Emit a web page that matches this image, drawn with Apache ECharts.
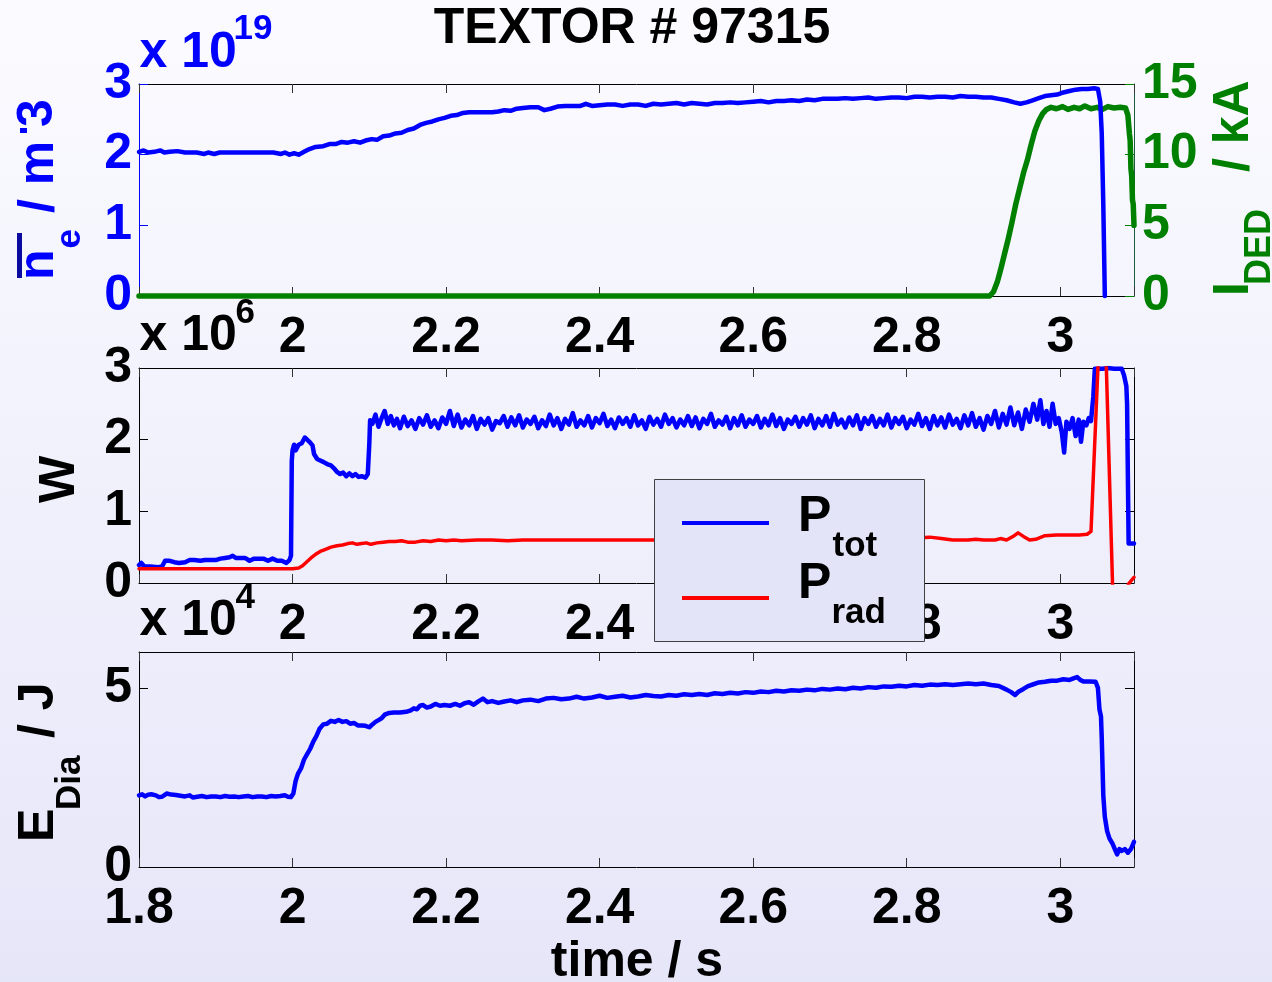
<!DOCTYPE html>
<html>
<head>
<meta charset="utf-8">
<script src="https://cdn.jsdelivr.net/npm/echarts@6/dist/echarts.min.js"></script>
<style>
html,body{margin:0;padding:0;width:1272px;height:982px;overflow:hidden;background:#EEEEFB;}
#chart{width:1272px;height:982px;}
</style>
</head>
<body>
<div id="chart"></div>
<script>
// ---------------- DATA (time in s) ----------------
// Panel 1: line-averaged density n_e (x 1e19 m^-3)
const neData = [[1.800,2.04],[1.806,2.06],[1.812,2.03],[1.820,2.04],[1.828,2.06],[1.833,2.03],[1.840,2.04],[1.850,2.05],[1.860,2.03],[1.875,2.03],[1.885,2.01],[1.890,2.03],[1.898,2.01],[1.905,2.03],[1.915,2.03],[1.930,2.03],[1.945,2.03],[1.960,2.03],[1.975,2.03],[1.985,2.01],[1.990,2.03],[1.996,2.0],[2.002,2.02],[2.008,2.0],[2.015,2.04],[2.022,2.08],[2.030,2.11],[2.040,2.12],[2.048,2.15],[2.056,2.15],[2.064,2.18],[2.072,2.17],[2.080,2.19],[2.088,2.17],[2.095,2.2],[2.103,2.22],[2.110,2.21],[2.118,2.26],[2.126,2.27],[2.134,2.3],[2.142,2.31],[2.150,2.35],[2.158,2.37],[2.166,2.42],[2.174,2.45],[2.182,2.47],[2.190,2.5],[2.198,2.52],[2.206,2.55],[2.214,2.56],[2.222,2.59],[2.230,2.6],[2.240,2.6],[2.250,2.6],[2.260,2.6],[2.268,2.61],[2.276,2.63],[2.284,2.62],[2.292,2.65],[2.300,2.66],[2.310,2.67],[2.320,2.67],[2.328,2.63],[2.336,2.65],[2.345,2.68],[2.355,2.69],[2.365,2.69],[2.375,2.69],[2.382,2.72],[2.390,2.69],[2.400,2.7],[2.410,2.71],[2.420,2.71],[2.430,2.69],[2.440,2.71],[2.450,2.71],[2.460,2.69],[2.470,2.72],[2.480,2.71],[2.490,2.72],[2.500,2.73],[2.510,2.71],[2.520,2.73],[2.530,2.72],[2.540,2.71],[2.550,2.73],[2.560,2.73],[2.570,2.74],[2.580,2.73],[2.590,2.74],[2.600,2.75],[2.610,2.76],[2.620,2.74],[2.630,2.76],[2.640,2.76],[2.650,2.77],[2.660,2.76],[2.670,2.78],[2.680,2.77],[2.690,2.79],[2.700,2.79],[2.710,2.79],[2.720,2.8],[2.730,2.79],[2.740,2.8],[2.750,2.81],[2.760,2.79],[2.770,2.8],[2.780,2.81],[2.790,2.81],[2.800,2.8],[2.810,2.82],[2.820,2.82],[2.830,2.81],[2.840,2.82],[2.850,2.82],[2.860,2.81],[2.870,2.83],[2.880,2.82],[2.890,2.82],[2.900,2.81],[2.910,2.81],[2.920,2.79],[2.930,2.77],[2.940,2.74],[2.948,2.72],[2.956,2.74],[2.964,2.77],[2.972,2.8],[2.980,2.83],[2.988,2.84],[2.996,2.85],[3.004,2.88],[3.012,2.9],[3.020,2.92],[3.028,2.93],[3.036,2.93],[3.044,2.94],[3.049,2.93],[3.052,2.75],[3.054,2.3],[3.056,1.3],[3.058,0.0]];
// Panel 1: DED coil current (kA)
const idedData = [[1.800,0],[2.200,0],[2.600,0],[2.908,0],[2.913,0.3],[2.918,1.0],[2.922,1.8],[2.927,2.9],[2.932,4.0],[2.937,5.2],[2.942,6.5],[2.947,7.6],[2.952,8.7],[2.957,9.6],[2.962,10.7],[2.967,11.7],[2.972,12.4],[2.977,12.9],[2.982,13.2],[2.988,13.35],[2.995,13.25],[3.003,13.4],[3.010,13.2],[3.018,13.35],[3.025,13.25],[3.032,13.45],[3.040,13.25],[3.048,13.35],[3.055,13.2],[3.062,13.4],[3.070,13.3],[3.078,13.35],[3.085,13.3],[3.088,12.8],[3.090,11.5],[3.091,11.0],[3.092,9.0],[3.093,8.5],[3.094,6.8],[3.095,6.5],[3.096,5.0]];
// Panel 2: total heating power P_tot (x 1e6 W)
const ptotData = [[1.800,0.25],[1.803,0.28],[1.807,0.23],[1.815,0.23],[1.825,0.22],[1.830,0.23],[1.834,0.31],[1.840,0.31],[1.846,0.29],[1.852,0.28],[1.860,0.29],[1.866,0.32],[1.872,0.32],[1.880,0.31],[1.886,0.32],[1.893,0.32],[1.900,0.32],[1.906,0.34],[1.912,0.35],[1.918,0.36],[1.922,0.38],[1.926,0.35],[1.932,0.35],[1.938,0.35],[1.944,0.31],[1.950,0.34],[1.956,0.34],[1.962,0.34],[1.968,0.31],[1.974,0.34],[1.980,0.31],[1.986,0.31],[1.992,0.28],[1.996,0.32],[1.998,0.38],[1.999,1.7],[2.000,1.85],[2.002,1.93],[2.004,1.85],[2.008,1.93],[2.012,1.95],[2.016,2.03],[2.019,2.0],[2.022,1.97],[2.026,1.92],[2.028,1.8],[2.032,1.73],[2.036,1.71],[2.040,1.69],[2.045,1.66],[2.050,1.64],[2.054,1.6],[2.058,1.55],[2.062,1.52],[2.066,1.54],[2.070,1.49],[2.074,1.53],[2.078,1.49],[2.082,1.52],[2.086,1.48],[2.090,1.49],[2.095,1.47],[2.098,1.52],[2.100,1.95],[2.101,2.27],[2.104,2.22],
[2.108,2.35],[2.112,2.18],[2.116,2.3],[2.120,2.4],[2.124,2.22],[2.128,2.33],[2.132,2.2],[2.136,2.29],[2.140,2.16],[2.145,2.32],[2.150,2.19],[2.155,2.27],[2.160,2.15],[2.165,2.3],[2.170,2.21],[2.175,2.34],[2.180,2.18],[2.185,2.27],[2.190,2.16],[2.195,2.31],[2.200,2.22],[2.205,2.4],[2.210,2.19],[2.215,2.35],[2.220,2.17],[2.225,2.28],[2.230,2.2],[2.235,2.33],[2.240,2.15],[2.245,2.29],[2.250,2.21],[2.255,2.3],[2.260,2.14],[2.265,2.26],[2.270,2.23],[2.275,2.33],[2.280,2.18],[2.285,2.31],[2.290,2.2],[2.295,2.34],[2.300,2.17],[2.305,2.28],[2.310,2.22],[2.315,2.32],[2.320,2.16],[2.325,2.27],[2.330,2.19],[2.335,2.35],[2.340,2.2],[2.345,2.3],[2.350,2.15],[2.355,2.29],[2.360,2.21],[2.365,2.37],[2.370,2.18],[2.375,2.27],[2.380,2.2],[2.385,2.33],[2.390,2.17],[2.395,2.3],[2.400,2.23],[2.405,2.36],[2.410,2.19],[2.415,2.28],[2.420,2.16],[2.425,2.31],[2.430,2.22],[2.435,2.3],[2.440,2.18],[2.445,2.34],[2.450,2.2],[2.455,2.27],[2.460,2.15],[2.465,2.32],[2.470,2.21],[2.475,2.29],[2.480,2.18],[2.485,2.35],[2.490,2.22],[2.495,2.3],[2.500,2.17],[2.505,2.28],[2.510,2.2],[2.515,2.33],[2.520,2.19],[2.525,2.31],[2.530,2.16],[2.535,2.29],[2.540,2.22],[2.545,2.36],[2.550,2.18],[2.555,2.27],[2.560,2.21],[2.565,2.32],[2.570,2.16],[2.575,2.3],[2.580,2.2],[2.585,2.34],[2.590,2.18],[2.595,2.28],[2.600,2.22],[2.605,2.33],[2.610,2.17],[2.615,2.29],[2.620,2.2],[2.625,2.35],[2.630,2.19],[2.635,2.3],[2.640,2.15],[2.645,2.28],[2.650,2.22],[2.655,2.32],[2.660,2.18],[2.665,2.3],[2.670,2.21],[2.675,2.34],[2.680,2.16],[2.685,2.29],[2.690,2.2],[2.695,2.33],[2.700,2.18],[2.705,2.36],[2.710,2.21],[2.715,2.28],[2.720,2.17],[2.725,2.31],[2.730,2.2],[2.735,2.34],[2.740,2.15],[2.745,2.3],[2.750,2.22],[2.755,2.33],[2.760,2.18],[2.765,2.29],[2.770,2.2],[2.775,2.35],[2.780,2.17],[2.785,2.3],[2.790,2.22],[2.795,2.32],[2.800,2.16],[2.805,2.28],[2.810,2.21],[2.815,2.36],[2.820,2.19],[2.825,2.3],[2.830,2.15],[2.835,2.33],[2.840,2.2],[2.845,2.31],[2.850,2.17],[2.855,2.35],[2.860,2.21],[2.865,2.29],[2.870,2.16],[2.875,2.34],[2.880,2.2],[2.885,2.37],[2.890,2.18],[2.895,2.3],[2.900,2.14],[2.905,2.33],[2.910,2.22],[2.915,2.4],[2.920,2.17],[2.925,2.36],[2.930,2.21],[2.935,2.45],[2.940,2.2],[2.945,2.38],[2.950,2.15],[2.955,2.42],[2.960,2.25],[2.965,2.5],[2.970,2.28],[2.974,2.55],[2.978,2.22],[2.982,2.4],[2.986,2.18],[2.990,2.5],[2.994,2.22],[2.998,2.3],[3.002,2.1],[3.005,1.82],[3.008,2.25],[3.012,2.15],[3.016,2.3],[3.020,2.05],[3.024,2.28],[3.027,1.97],[3.030,2.25],[3.034,2.2],[3.037,2.3],[3.040,2.26],[3.043,2.6],[3.045,2.99],[3.055,2.99],[3.062,3.0],[3.070,2.99],[3.080,2.99],[3.083,2.9],[3.086,2.75],[3.087,2.5],[3.088,1.5],[3.089,0.55],[3.096,0.55]];
// Panel 2: radiated power P_rad (x 1e6 W)
const pradData = [[1.800,0.2],[2.000,0.2],[2.008,0.21],[2.013,0.24],[2.018,0.29],[2.024,0.35],[2.030,0.4],[2.036,0.44],[2.043,0.47],[2.050,0.5],[2.058,0.52],[2.065,0.53],[2.072,0.55],[2.078,0.56],[2.084,0.54],[2.090,0.55],[2.096,0.56],[2.102,0.54],[2.110,0.56],[2.118,0.57],[2.126,0.58],[2.134,0.58],[2.142,0.59],[2.150,0.57],[2.160,0.57],[2.170,0.59],[2.180,0.58],[2.190,0.6],[2.200,0.59],[2.210,0.6],[2.220,0.59],[2.240,0.6],[2.260,0.6],[2.280,0.59],[2.300,0.6],[2.330,0.6],[2.360,0.6],[2.400,0.6],[2.440,0.6],[2.480,0.6],[2.520,0.6],[2.560,0.6],[2.600,0.6],[2.640,0.6],[2.680,0.6],[2.720,0.6],[2.760,0.61],[2.800,0.62],[2.830,0.64],[2.845,0.62],[2.860,0.6],[2.880,0.6],[2.890,0.61],[2.900,0.6],[2.915,0.6],[2.922,0.62],[2.930,0.6],[2.940,0.66],[2.945,0.7],[2.952,0.65],[2.960,0.6],[2.968,0.61],[2.980,0.66],[2.995,0.67],[3.010,0.67],[3.025,0.67],[3.035,0.68],[3.040,0.72],[3.049,3.0],[3.052,3.3],[3.057,3.3],[3.060,3.0],[3.068,0.0],[3.070,-0.5],[3.086,-0.5],[3.0885,-0.02],[3.096,0.08]];
// Panel 3: diamagnetic energy E_Dia (x 1e4 J)
const ediaData = [[1.800,2.0],[1.804,2.03],[1.808,1.97],[1.812,2.02],[1.816,2.03],[1.822,2.0],[1.826,1.95],[1.830,1.96],[1.836,2.05],[1.842,2.02],[1.848,2.01],[1.854,1.99],[1.860,1.97],[1.866,2.0],[1.870,1.94],[1.876,1.96],[1.882,1.98],[1.888,1.95],[1.894,1.97],[1.900,1.97],[1.906,1.95],[1.912,1.98],[1.918,1.96],[1.924,1.97],[1.930,1.95],[1.936,1.97],[1.942,1.98],[1.948,1.95],[1.954,1.97],[1.960,1.97],[1.966,1.95],[1.972,1.98],[1.978,1.97],[1.984,1.98],[1.990,2.0],[1.994,1.96],[1.998,1.95],[2.001,2.05],[2.004,2.4],[2.007,2.6],[2.011,2.75],[2.015,3.0],[2.019,3.15],[2.023,3.3],[2.027,3.5],[2.031,3.65],[2.035,3.85],[2.040,3.98],[2.045,4.0],[2.050,4.08],[2.055,4.05],[2.060,4.1],[2.065,4.05],[2.070,4.07],[2.075,4.0],[2.080,4.02],[2.085,3.95],[2.090,3.95],[2.095,3.94],[2.100,3.9],[2.104,3.98],[2.108,4.05],[2.112,4.1],[2.116,4.15],[2.120,4.25],[2.126,4.3],[2.132,4.31],[2.140,4.31],[2.148,4.33],[2.154,4.37],[2.158,4.43],[2.162,4.4],[2.166,4.5],[2.170,4.52],[2.175,4.45],[2.180,4.48],[2.186,4.55],[2.192,4.5],[2.198,4.52],[2.205,4.5],[2.212,4.55],[2.218,4.5],[2.224,4.57],[2.230,4.6],[2.236,4.53],[2.242,4.62],[2.248,4.7],[2.254,4.6],[2.260,4.63],[2.268,4.58],[2.276,4.62],[2.284,4.65],[2.292,4.6],[2.300,4.65],[2.310,4.67],[2.320,4.63],[2.330,4.7],[2.340,4.72],[2.350,4.68],[2.360,4.7],[2.370,4.75],[2.380,4.7],[2.390,4.73],[2.400,4.78],[2.410,4.72],[2.420,4.75],[2.430,4.78],[2.440,4.73],[2.450,4.76],[2.460,4.8],[2.470,4.77],[2.480,4.76],[2.490,4.8],[2.500,4.78],[2.510,4.82],[2.520,4.8],[2.530,4.83],[2.540,4.8],[2.550,4.85],[2.560,4.83],[2.570,4.86],[2.580,4.84],[2.590,4.88],[2.600,4.86],[2.610,4.9],[2.620,4.88],[2.630,4.92],[2.640,4.9],[2.650,4.93],[2.660,4.92],[2.670,4.95],[2.680,4.93],[2.690,4.97],[2.700,4.95],[2.710,4.98],[2.720,4.96],[2.730,5.0],[2.740,4.98],[2.750,5.02],[2.760,5.0],[2.770,5.04],[2.780,5.03],[2.790,5.06],[2.800,5.04],[2.810,5.08],[2.820,5.06],[2.830,5.09],[2.840,5.08],[2.850,5.1],[2.860,5.08],[2.870,5.1],[2.880,5.12],[2.890,5.1],[2.900,5.12],[2.910,5.08],[2.920,5.05],[2.930,4.95],[2.936,4.88],[2.941,4.8],[2.946,4.9],[2.952,4.97],[2.958,5.05],[2.965,5.1],[2.972,5.15],[2.980,5.17],[2.988,5.2],[2.996,5.2],[3.004,5.24],[3.012,5.22],[3.018,5.27],[3.022,5.3],[3.026,5.22],[3.030,5.18],[3.038,5.18],[3.046,5.17],[3.049,5.0],[3.051,4.4],[3.053,4.2],[3.054,3.6],[3.055,2.8],[3.056,2.0],[3.058,1.4],[3.061,1.0],[3.064,0.8],[3.068,0.65],[3.071,0.5],[3.074,0.35],[3.077,0.5],[3.080,0.45],[3.084,0.5],[3.088,0.4],[3.092,0.5],[3.096,0.7]];

// Axis ranges / ticks
const timeMin = 1.8, timeMax = 3.096, timeStep = 0.2;
const neRange = [0, 3, 1];
const idedRange = [0, 15, 5];
const powRange = [0, 3, 1];
const ediaRange = [0, 6, 5];

// Texts
const titleText = 'TEXTOR # 97315';
const xAxisTitle = 'time / s';

// ---------------- CHART ----------------
const FONT = '"Liberation Sans", Arial, Helvetica, sans-serif';
const BLUE = '#0000FF', RED = '#FF0000', GREEN = '#008000';

const chart = echarts.init(document.getElementById('chart'), null, {renderer: 'canvas'});

const grids = [
  {left: 139, width: 995, top: 84, height: 212},
  {left: 139, width: 995, top: 368, height: 215},
  {left: 139, width: 995, top: 652, height: 215}
].map(g => Object.assign({containLabel: false, outerBoundsMode: 'none', show: false}, g));

function timeFmt(hide18) {
  return function (v) {
    const r = Math.round(v * 10) / 10;
    if (v > 3.05) return '';
    if (hide18 && r < 1.85) return '';
    return String(r);
  };
}

const xAxes = [];
[true, true, false].forEach((hide18, g) => {
  xAxes.push({
    type: 'value', gridIndex: g, position: 'bottom',
    min: timeMin, max: timeMax, interval: timeStep,
    axisLine: {show: true, onZero: false, lineStyle: {color: '#000', width: 1}},
    axisTick: {show: true, inside: true, length: 9, lineStyle: {color: '#333', width: 1}},
    axisLabel: {show: true, margin: 17, fontSize: 50, fontWeight: 'bold', fontFamily: FONT,
      color: '#000', lineHeight: 50, formatter: timeFmt(hide18), hideOverlap: false},
    splitLine: {show: false}
  });
  xAxes.push({
    type: 'value', gridIndex: g, position: 'top',
    min: timeMin, max: timeMax, interval: timeStep,
    axisLine: {show: true, onZero: false, lineStyle: {color: '#000', width: 1}},
    axisTick: {show: true, inside: true, length: 9, lineStyle: {color: '#333', width: 1}},
    axisLabel: {show: false},
    splitLine: {show: false}
  });
});

function yAx(g, pos, range, color, labels, hideTop) {
  return {
    type: 'value', gridIndex: g, position: pos,
    min: range[0], max: range[1], interval: range[2],
    axisLine: {show: true, onZero: false, lineStyle: {color: color, width: 1}},
    axisTick: {show: true, inside: true, length: 9, lineStyle: {color: color, width: 1}},
    axisLabel: {show: labels, margin: pos === 'left' ? 7 : 8, fontSize: 50, fontWeight: 'bold',
      fontFamily: FONT, color: color, lineHeight: 50,
      formatter: function (v) { if (hideTop && v > range[1] - 0.5) return ''; return String(Math.round(v)); }},
    splitLine: {show: false}
  };
}

const yAxes = [
  yAx(0, 'left', neRange, BLUE, true, false),
  yAx(0, 'right', idedRange, GREEN, true, false),
  yAx(1, 'left', powRange, '#000', true, false),
  yAx(1, 'right', powRange, '#000', false, false),
  yAx(2, 'left', ediaRange, '#000', true, true),
  yAx(2, 'right', ediaRange, '#000', false, true)
];
yAxes[1].axisLine.lineStyle.color = '#1E5A3C';

function lineSeries(name, data, xi, yi, color, width, clip) {
  return {
    name: name, type: 'line', data: data, xAxisIndex: xi, yAxisIndex: yi,
    showSymbol: false, symbol: 'none', clip: clip, animation: false,
    lineStyle: {color: color, width: width, join: 'round', cap: 'round'},
    itemStyle: {color: color}
  };
}

const series = [
  lineSeries('I_DED', idedData, 0, 1, GREEN, 5.5, false),
  lineSeries('n_e', neData, 0, 0, BLUE, 4.5, false),
  lineSeries('P_tot', ptotData, 2, 2, BLUE, 4.5, true),
  lineSeries('P_rad', pradData, 2, 2, RED, 3.5, true),
  lineSeries('E_Dia', ediaData, 4, 4, BLUE, 4.5, false)
];

// ---------- text helpers (baseline-based placement) ----------
function T(text, baseX, baseY, fs, color, rotated, align) {
  const off = 0.3465 * fs;
  const el = {
    type: 'text', z: 100, silent: true,
    style: {
      text: text, x: 0, y: 0, fill: color,
      font: 'bold ' + fs + 'px ' + FONT,
      fontSize: fs, fontWeight: 'bold', fontFamily: FONT,
      align: align || 'left', verticalAlign: 'middle',
      textAlign: align || 'left', textVerticalAlign: 'middle'
    }
  };
  if (rotated) {
    el.rotation = Math.PI / 2;
    el.x = baseX - off;
    el.y = baseY;
  } else {
    el.x = baseX;
    el.y = baseY - off;
  }
  return el;
}

const graphics = [
  T(titleText, 632, 47, 50, '#000', false, 'center'),
  T(xAxisTitle, 637, 980, 50, '#000', false, 'center'),
  T('x 10', 139.5, 71, 50, BLUE, false),
  T('19', 233.5, 41, 35, BLUE, false),
  T('x 10', 139.5, 354, 50, '#000', false),
  T('6', 235.5, 325, 35, '#000', false),
  T('x 10', 139.5, 639, 50, '#000', false),
  T('4', 235.5, 610, 35, '#000', false),
  // panel 1 left title: n_e / m^-3 (overline on n, tiny superscript minus)
  {type: 'rect', z: 100, silent: true, shape: {x: 17, y: 233, width: 5, height: 45}, style: {fill: '#0A0AA0'}},
  T('n', 57, 280, 50, BLUE, true),
  T('e', 82, 248.5, 35, BLUE, true),
  T('/ m', 57, 213, 50, BLUE, true),
  {type: 'rect', z: 100, silent: true, shape: {x: 20, y: 128, width: 7, height: 5}, style: {fill: BLUE}},
  T('3', 56, 127, 50, BLUE, true),
  // panel 1 right title: I_DED / kA
  T('I', 1252, 296, 50, GREEN, true),
  T('DED', 1273, 285, 36, GREEN, true),
  T('/ kA', 1252, 172, 50, GREEN, true),
  // panel 2 title
  T('W', 78, 503, 50, '#000', true),
  // panel 3 title: E_Dia / J
  T('E', 57, 842, 50, '#000', true),
  T('Dia', 82, 810, 35, '#000', true),
  T('/ J', 57, 738, 50, '#000', true),
  // legend box
  {type: 'rect', z: 110, silent: true, shape: {x: 654.5, y: 479.5, width: 270, height: 162},
    style: {fill: '#E4E4F8', stroke: '#404040', lineWidth: 1}},
  {type: 'line', z: 111, silent: true, shape: {x1: 682, y1: 523, x2: 769, y2: 523},
    style: {stroke: BLUE, lineWidth: 4}},
  {type: 'line', z: 111, silent: true, shape: {x1: 682, y1: 598, x2: 769, y2: 598},
    style: {stroke: RED, lineWidth: 4}}
];
const legendTexts = [
  T('P', 798, 535, 50, '#000', false),
  T('tot', 832.5, 558, 35, '#000', false),
  T('P', 798, 602, 50, '#000', false),
  T('rad', 831.5, 625, 35, '#000', false)
];
legendTexts.forEach(t => { t.z = 112; graphics.push(t); });

chart.setOption({
  animation: false,
  backgroundColor: new echarts.graphic.LinearGradient(0, 0, 0, 1, [
    {offset: 0, color: '#FBFBFF'},
    {offset: 1, color: '#E6E6F9'}
  ]),
  textStyle: {fontFamily: FONT},
  grid: grids,
  xAxis: xAxes,
  yAxis: yAxes,
  series: series,
  graphic: {elements: graphics}
});
</script>
</body>
</html>
